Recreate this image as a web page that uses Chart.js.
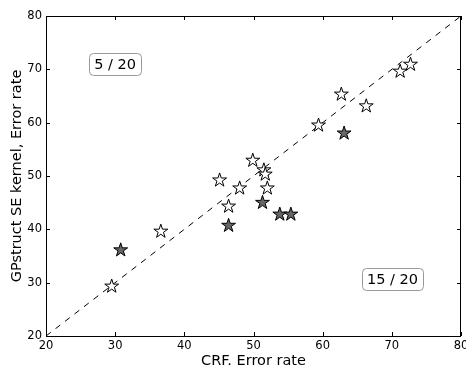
<!DOCTYPE html>
<html>
<head>
<meta charset="utf-8">
<script src="https://cdn.jsdelivr.net/npm/chart.js@4.4.0/dist/chart.umd.min.js"></script>
<style>
  html, body { margin: 0; padding: 0; background: #fff; }
  canvas { display: block; }
</style>
</head>
<body>
<canvas id="chart" width="466" height="366"></canvas>
<script>
// open stars
const openCrf = [29.5, 36.6, 45.1, 46.4, 48.0, 49.9, 51.5, 51.7, 52.0, 59.4, 62.7, 66.3, 71.2, 72.7];
const openGp  = [29.4, 39.7, 49.3, 44.4, 47.8, 53.0, 51.2, 50.4, 47.8, 59.6, 65.4, 63.2, 69.7, 71.0];
// filled stars
const filledCrf = [30.8, 46.4, 51.3, 53.8, 55.4, 63.1];
const filledGp  = [36.2, 40.8, 45.1, 42.9, 42.9, 58.1];

const axisTicks = [20, 30, 40, 50, 60, 70, 80];
const diagonal = [20, 80];
const countLabels = ["5 / 20", "15 / 20"];

const FONT = "'DejaVu Sans', sans-serif";

const toPoints = (xs, ys) => xs.map((x, i) => ({ x, y: ys[i] }));

function drawStar(ctx, x, y, fill) {
  const R = 7.3, r = R * 0.381966;
  ctx.beginPath();
  for (let i = 0; i < 10; i++) {
    const rad = i % 2 ? r : R;
    const a = -Math.PI / 2 + i * Math.PI / 5;
    const px = x + rad * Math.cos(a), py = y + 0.5 + rad * Math.sin(a);
    i ? ctx.lineTo(px, py) : ctx.moveTo(px, py);
  }
  ctx.closePath();
  ctx.fillStyle = fill;
  ctx.fill();
  ctx.lineWidth = 1;
  ctx.strokeStyle = "#000";
  ctx.stroke();
}

// star markers at the positions the scatter elements got from the scales
const starPlugin = {
  id: "stars",
  afterDatasetsDraw(chart) {
    const ctx = chart.ctx;
    ctx.save();
    chart.data.datasets.forEach((ds, i) => {
      if (!ds.starFill) return;
      chart.getDatasetMeta(i).data.forEach(el => drawStar(ctx, el.x, el.y, ds.starFill));
    });
    ctx.restore();
  }
};

// frame, inward ticks on all sides, count boxes
const framePlugin = {
  id: "frame",
  afterDatasetsDraw(chart) {
    const { ctx, chartArea: a, scales } = chart;
    ctx.save();
    ctx.strokeStyle = "#000";
    ctx.lineWidth = 1;
    ctx.beginPath();
    axisTicks.forEach(v => {
      const x = Math.round(scales.x.getPixelForValue(v)) + 0.5;
      const y = Math.round(scales.y.getPixelForValue(v)) + 0.5;
      ctx.moveTo(x, a.bottom); ctx.lineTo(x, a.bottom - 4);
      ctx.moveTo(x, a.top); ctx.lineTo(x, a.top + 4);
      ctx.moveTo(a.left, y); ctx.lineTo(a.left + 4, y);
      ctx.moveTo(a.right, y); ctx.lineTo(a.right - 4, y);
    });
    ctx.stroke();
    ctx.strokeRect(a.left + 0.5, a.top + 0.5, a.right - a.left - 1, a.bottom - a.top);

    const spots = [[30, 71], [70.1, 30.7]];
    ctx.font = "14.5px " + FONT;
    ctx.textAlign = "center";
    ctx.textBaseline = "middle";
    countLabels.forEach((t, i) => {
      const cx = scales.x.getPixelForValue(spots[i][0]);
      const cy = scales.y.getPixelForValue(spots[i][1]);
      const w = ctx.measureText(t).width + 10;
      const h = 22;
      ctx.beginPath();
      ctx.roundRect(Math.round(cx - w / 2) + 0.5, Math.round(cy - h / 2) + 0.5, Math.round(w), h, 4);
      ctx.fillStyle = "#fff";
      ctx.fill();
      ctx.strokeStyle = "#999";
      ctx.stroke();
      ctx.fillStyle = "#000";
      ctx.fillText(t, cx, cy + 1);
    });
    ctx.restore();
  }
};

new Chart(document.getElementById("chart"), {
  type: "scatter",
  data: {
    datasets: [
      {
        type: "line",
        data: toPoints(diagonal, diagonal),
        borderColor: "#000",
        borderWidth: 1,
        borderDash: [6, 6],
        pointRadius: 0,
        fill: false
      },
      {
        data: toPoints(openCrf, openGp),
        pointStyle: false,
        starFill: "#fff"
      },
      {
        data: toPoints(filledCrf, filledGp),
        pointStyle: false,
        starFill: "#666"
      }
    ]
  },
  options: {
    responsive: false,
    animation: false,
    layout: { padding: { top: 16, right: 4, left: 0, bottom: 0 } },
    plugins: { legend: { display: false }, tooltip: { enabled: false } },
    scales: {
      x: {
        type: "linear",
        min: 20,
        max: 80,
        afterBuildTicks: s => { s.ticks = axisTicks.map(v => ({ value: v })); },
        afterFit: s => { s.height = 30; s.paddingLeft = 0; s.paddingRight = 0; },
        grid: { display: false, drawTicks: false },
        border: { display: false },
        ticks: { color: "#000", padding: 3, maxRotation: 0, font: { family: FONT, size: 11.5 } },
        title: {
          display: true,
          text: "CRF. Error rate",
          color: "#000",
          padding: { top: 0, bottom: -4 },
          font: { family: FONT, size: 14.5, lineHeight: 1.2 }
        }
      },
      y: {
        type: "linear",
        min: 20,
        max: 80,
        afterBuildTicks: s => { s.ticks = axisTicks.map(v => ({ value: v })); },
        afterFit: s => { s.width = 46; s.paddingTop = 0; s.paddingBottom = 0; },
        grid: { display: false, drawTicks: false },
        border: { display: false },
        ticks: { color: "#000", padding: 4, font: { family: FONT, size: 11.5 } },
        title: {
          display: true,
          text: "GPstruct SE kernel, Error rate",
          color: "#000",
          padding: { top: 9, bottom: 0 },
          font: { family: FONT, size: 14.5, lineHeight: 1.2 }
        }
      }
    }
  },
  plugins: [starPlugin, framePlugin]
});
</script>
</body>
</html>
